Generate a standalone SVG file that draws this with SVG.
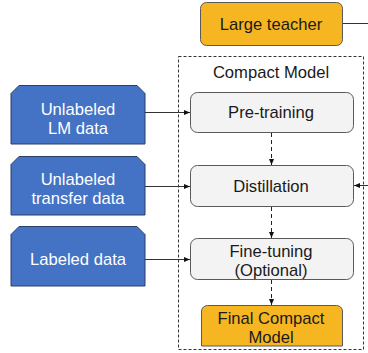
<svg xmlns="http://www.w3.org/2000/svg" width="368" height="353" viewBox="0 0 368 353">
<defs>
<style>
text{font-family:"Liberation Sans",Arial,sans-serif;font-size:16.6px;text-anchor:middle;dominant-baseline:central}
.w{fill:#ffffff}
.k{fill:#1a1a1a}
.blue{fill:#4472C4;stroke:#2c3e66;stroke-width:1}
.gray{fill:#F3F3F3;stroke:#595959;stroke-width:1}
.orange{fill:#F6B622;stroke:#595959;stroke-width:1}
.solid{fill:none;stroke:#333;stroke-width:1}
.dash{fill:none;stroke:#222;stroke-width:1;stroke-dasharray:4,3}
</style>
<marker id="ah" viewBox="0 0 6 6" refX="6" refY="3" markerWidth="6" markerHeight="6" markerUnits="userSpaceOnUse" orient="auto">
<path d="M0,0.5 L6,3 L0,5.5 Z" fill="#111"/>
</marker>
</defs>
<g id="compact-model">
<rect x="178.5" y="56.5" width="185" height="293" fill="none" stroke="#333" stroke-width="1" stroke-dasharray="3,2"/>
<text x="271" y="72" class="k">Compact Model</text>
</g>
<g id="large-teacher">
<rect x="200.5" y="2.5" width="142" height="43" rx="6" class="orange"/>
<text x="271" y="24" class="k">Large teacher</text>
</g>
<g id="unlabeled-lm">
<path d="M19,85.5 H137 L145,93.5 V144 H11 V93.5 Z" class="blue"/>
<text x="78" y="109" class="w">Unlabeled</text>
<text x="78" y="128" class="w">LM data</text>
</g>
<g id="unlabeled-transfer">
<path d="M19,156.5 H137 L145,164.5 V215 H11 V164.5 Z" class="blue"/>
<text x="78" y="179" class="w">Unlabeled</text>
<text x="78" y="198" class="w">transfer data</text>
</g>
<g id="labeled">
<path d="M19,226.5 H137 L145,234.5 V286 H11 V234.5 Z" class="blue"/>
<text x="78" y="259" class="w">Labeled data</text>
</g>
<g id="pretraining">
<rect x="190.5" y="92.5" width="163" height="40" rx="7" class="gray"/>
<text x="271" y="112" class="k">Pre-training</text>
</g>
<g id="distillation">
<rect x="190.5" y="165.5" width="163" height="41" rx="7" class="gray"/>
<text x="271" y="186" class="k">Distillation</text>
</g>
<g id="finetuning">
<rect x="190.5" y="238.5" width="163" height="41" rx="7" class="gray"/>
<text x="271" y="251" class="k">Fine-tuning</text>
<text x="271" y="270" class="k">(Optional)</text>
</g>
<g id="final">
<path d="M201.5,346 V311 A6,6 0 0 1 207.5,305.5 H336.5 A6,6 0 0 1 342.5,311 V346 Z" class="orange"/>
<text x="271" y="318" class="k">Final Compact</text>
<text x="271" y="337" class="k">Model</text>
</g>
<g id="connectors">
<path d="M145,112.5 H190" class="solid" marker-end="url(#ah)"/>
<path d="M145,186.5 H190" class="solid" marker-end="url(#ah)"/>
<path d="M145,259.5 H190" class="solid" marker-end="url(#ah)"/>
<path d="M343,23.5 H375 V185.5 H354" class="solid" marker-end="url(#ah)"/>
<path d="M271.5,133 V165" class="dash" marker-end="url(#ah)"/>
<path d="M271.5,207 V238" class="dash" marker-end="url(#ah)"/>
<path d="M271.5,280 V305" class="dash" marker-end="url(#ah)"/>
</g>
</svg>
